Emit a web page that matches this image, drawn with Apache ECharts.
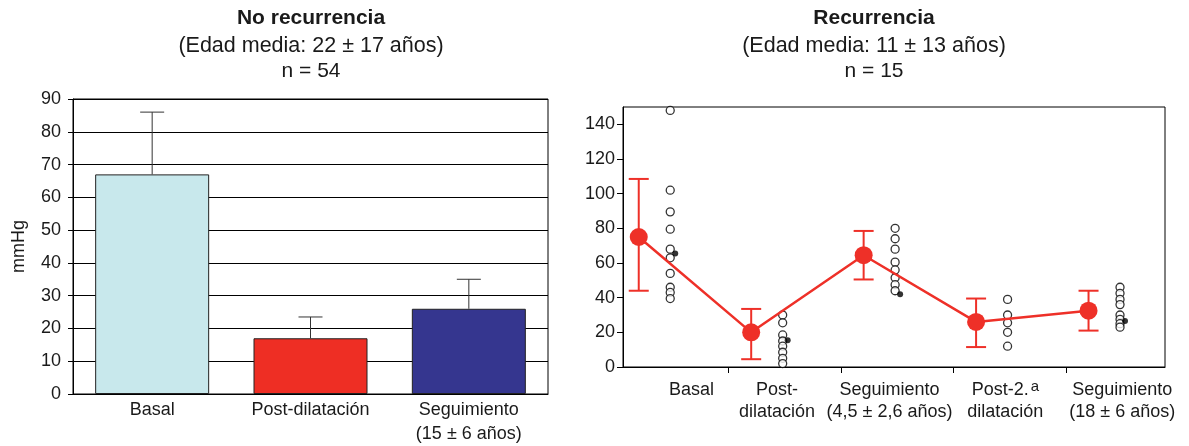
<!DOCTYPE html>
<html>
<head>
<meta charset="utf-8">
<script src="https://cdn.jsdelivr.net/npm/echarts@6/dist/echarts.min.js"></script>
<style>
  html, body { margin: 0; padding: 0; background: #fff; }
  #chart { width: 1189px; height: 446px; }
</style>
</head>
<body>
<div id="chart"></div>
<script>
// ---------- Data ----------
const leftCategories = ['Basal', 'Post-dilatación', 'Seguimiento\n(15 ± 6 años)'];
const leftMeans = [67, 17, 26];
const leftUpper = [86, 23.5, 35];
const leftColors = ['#c8e8ec', '#ee2e24', '#35368f'];

const rightCategories = ['Basal', 'Post-\ndilatación', 'Seguimiento\n(4,5 ± 2,6 años)', 'Post-2.{sup|a}\ndilatación', 'Seguimiento\n(18 ± 6 años)'];
const rightMeans = [75, 20, 64.5, 26, 32.5];
const rightHigh = [108.5, 33.5, 78.5, 39.5, 44];
const rightLow = [44, 4.5, 50.5, 11.5, 21];

const dotsBasal = [148, 102, 89.5, 79.5, 68, 63, 54, 46, 43, 39.5];
const dotsPost = [30, 25.5, 18.5, 15, 12, 8.5, 5, 2];
const dotsSeg = [80, 74, 68, 60.5, 56, 51.5, 47.5, 44];
const dotsPost2 = [39, 30, 25.5, 20, 12];
const dotsSeg2 = [46, 42.5, 39, 36, 30, 27.5, 25, 23];
const filledDots = [65.5, 15.5, 42, null, 26.5];

const rightYTicks = [0, 20, 40, 60, 80, 100, 120, 140];

// ---------- Layout constants (positions within each group on the value x axis) ----------
const MEAN_OFFSET = 0.2;
const DOT_OFFSET = 0.48;
const GROUP_TICKS = [1, 2, 3, 4];
const LABEL_POS = [0.67, 1.43, 2.43, 3.46, 4.5];

const dotGroups = [dotsBasal, dotsPost, dotsSeg, dotsPost2, dotsSeg2];
const openDotData = [];
dotGroups.forEach((g, i) => g.forEach(v => openDotData.push([i + DOT_OFFSET, v])));
const filledDotData = [];
filledDots.forEach((v, i) => { if (v != null) filledDotData.push([i + DOT_OFFSET, v]); });
const meanData = rightMeans.map((v, i) => [i + MEAN_OFFSET, v]);
const rightErrData = rightMeans.map((v, i) => [i + MEAN_OFFSET, rightLow[i], rightHigh[i]]);
const leftErrData = leftMeans.map((v, i) => [i, v, leftUpper[i]]);

const FONT = 'Liberation Sans, Arial, Helvetica, sans-serif';
const TXT = '#1a1a1a';

const chart = echarts.init(document.getElementById('chart'), null, { renderer: 'canvas' });

function titleSet(cx, main, sub, n) {
  return [
    { text: main, left: cx, top: 8, textAlign: 'center', padding: 0,
      textStyle: { fontFamily: FONT, fontSize: 21, fontWeight: 'bold', color: TXT } },
    { text: sub, left: cx, top: 35, textAlign: 'center', padding: 0,
      textStyle: { fontFamily: FONT, fontSize: 21.5, fontWeight: 'normal', color: TXT } },
    { text: n, left: cx, top: 61, textAlign: 'center', padding: 0,
      textStyle: { fontFamily: FONT, fontSize: 21, fontWeight: 'normal', color: TXT } }
  ];
}

const option = {
  animation: false,
  backgroundColor: '#fff',
  title: [].concat(
    titleSet(311, 'No recurrencia', '(Edad media: 22 ± 17 años)', 'n = 54'),
    titleSet(874, 'Recurrencia', '(Edad media: 11 ± 13 años)', 'n = 15')
  ),
  grid: [
    { left: 73, top: 99, width: 475, height: 297, show: true, borderColor: '#000', borderWidth: 1, backgroundColor: 'transparent' },
    { left: 623, top: 107, width: 542, height: 260, show: true, borderColor: '#000', borderWidth: 1, backgroundColor: 'transparent' }
  ],
  xAxis: [
    {
      gridIndex: 0, type: 'category', data: leftCategories,
      axisLine: { lineStyle: { color: '#000', width: 1 } },
      axisTick: { show: false },
      axisLabel: { fontFamily: FONT, fontSize: 18, color: TXT, lineHeight: 24, margin: 4, interval: 0 }
    },
    {
      gridIndex: 1, type: 'value', min: 0.06, max: 4.88,
      splitLine: { show: false },
      axisLine: { lineStyle: { color: '#000', width: 1 } },
      axisTick: { show: true, length: 6, lineStyle: { color: '#000' }, customValues: GROUP_TICKS },
      axisLabel: {
        fontFamily: FONT, fontSize: 18, color: TXT, lineHeight: 22, margin: 12,
        customValues: LABEL_POS,
        formatter: function (v) {
          let best = 0, d = Infinity;
          LABEL_POS.forEach((p, i) => { if (Math.abs(p - v) < d) { d = Math.abs(p - v); best = i; } });
          return rightCategories[best];
        },
        rich: {
          sup: { fontFamily: FONT, fontSize: 15, color: TXT, verticalAlign: 'top', lineHeight: 22, padding: [0, 0, 12, 2] }
        }
      }
    }
  ],
  yAxis: [
    {
      gridIndex: 0, type: 'value', min: 0, max: 90, interval: 10,
      name: 'mmHg', nameLocation: 'middle', nameGap: 45, nameRotate: 90,
      nameTextStyle: { fontFamily: FONT, fontSize: 18, color: TXT },
      axisLine: { show: true, lineStyle: { color: '#000', width: 1 } },
      axisTick: { show: true, length: 5, lineStyle: { color: '#000' } },
      axisLabel: { fontFamily: FONT, fontSize: 18, color: TXT, margin: 12 },
      splitLine: { show: true, lineStyle: { color: '#000', width: 1 } }
    },
    {
      gridIndex: 1, type: 'value', min: 0, max: 150,
      axisLine: { show: true, lineStyle: { color: '#000', width: 1 } },
      axisTick: { show: true, length: 6, lineStyle: { color: '#000' }, customValues: rightYTicks },
      axisLabel: { fontFamily: FONT, fontSize: 18, color: TXT, margin: 8, customValues: rightYTicks },
      splitLine: { show: false }
    }
  ],
  series: [
    {
      type: 'bar', xAxisIndex: 0, yAxisIndex: 0, barWidth: '72%',
      data: leftMeans.map((v, i) => ({ value: v, itemStyle: { color: leftColors[i] } })),
      itemStyle: { borderColor: '#222', borderWidth: 1 },
      z: 3
    },
    {
      type: 'custom', xAxisIndex: 0, yAxisIndex: 0, data: leftErrData, z: 4,
      renderItem: function (params, api) {
        const top = api.coord([api.value(0), api.value(1)]);
        const up = api.coord([api.value(0), api.value(2)]);
        const st = { stroke: '#333', lineWidth: 1 };
        return { type: 'group', children: [
          { type: 'line', shape: { x1: up[0], y1: up[1], x2: top[0], y2: top[1] }, style: st },
          { type: 'line', shape: { x1: up[0] - 12, y1: up[1], x2: up[0] + 12, y2: up[1] }, style: st }
        ] };
      }
    },
    {
      type: 'scatter', xAxisIndex: 1, yAxisIndex: 1, data: openDotData,
      symbol: 'circle', symbolSize: 8,
      itemStyle: { color: '#fff', borderColor: '#000', borderWidth: 1.3 },
      z: 2
    },
    {
      type: 'scatter', xAxisIndex: 1, yAxisIndex: 1, data: filledDotData,
      symbol: 'circle', symbolSize: 6, symbolOffset: [5, 0],
      itemStyle: { color: '#000' },
      z: 3
    },
    {
      type: 'custom', xAxisIndex: 1, yAxisIndex: 1, data: rightErrData, z: 4,
      renderItem: function (params, api) {
        const lo = api.coord([api.value(0), api.value(1)]);
        const hi = api.coord([api.value(0), api.value(2)]);
        const st = { stroke: '#ee3028', lineWidth: 2 };
        return { type: 'group', children: [
          { type: 'line', shape: { x1: hi[0], y1: hi[1], x2: lo[0], y2: lo[1] }, style: st },
          { type: 'line', shape: { x1: hi[0] - 10, y1: hi[1], x2: hi[0] + 10, y2: hi[1] }, style: st },
          { type: 'line', shape: { x1: lo[0] - 10, y1: lo[1], x2: lo[0] + 10, y2: lo[1] }, style: st }
        ] };
      }
    },
    {
      type: 'line', xAxisIndex: 1, yAxisIndex: 1, data: meanData,
      symbol: 'circle', symbolSize: 18, showSymbol: true,
      lineStyle: { color: '#ee3028', width: 2.5 },
      itemStyle: { color: '#ee3028' },
      z: 5
    }
  ]
};
chart.setOption(option);
</script>
</body>
</html>
